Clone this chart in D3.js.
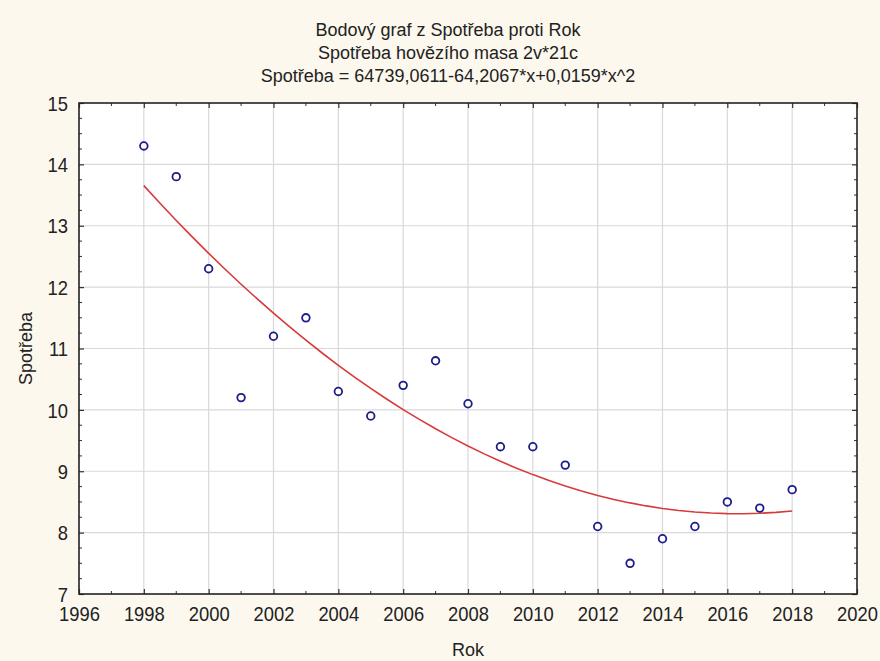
<!DOCTYPE html>
<html>
<head>
<meta charset="utf-8">
<script src="https://cdn.jsdelivr.net/npm/d3@7"></script>
<style>
  html, body { margin: 0; padding: 0; background: #fcf8ed; }
  svg { display: block; }
  text { font-family: "Liberation Sans", Arial, sans-serif; fill: #222; }
</style>
</head>
<body>
<svg id="chart" width="880" height="661"></svg>
<script>
// Spotřeba hovězího masa (kg/os.) by year
const years = [1998, 1999, 2000, 2001, 2002, 2003, 2004, 2005, 2006, 2007, 2008,
               2009, 2010, 2011, 2012, 2013, 2014, 2015, 2016, 2017, 2018];
const spotreba = [14.3, 13.8, 12.3, 10.2, 11.2, 11.5, 10.3, 9.9, 10.4, 10.8, 10.1,
                  9.4, 9.4, 9.1, 8.1, 7.5, 7.9, 8.1, 8.5, 8.4, 8.7];
const xTicks = [1996, 1998, 2000, 2002, 2004, 2006, 2008, 2010, 2012, 2014, 2016, 2018, 2020];
const yTicks = [7, 8, 9, 10, 11, 12, 13, 14, 15];
const titleLines = [
  "Bodový graf z Spotřeba proti Rok",
  "Spotřeba hovězího masa 2v*21c",
  "Spotřeba = 64739,0611-64,2067*x+0,0159*x^2"
];

const W = 880, H = 661;
const margin = { left: 79, right: 23, top: 103, bottom: 67 };
const svg = d3.select("#chart");
const SX = 0.92; // slightly condensed tick labels

const x = d3.scaleLinear().domain([1996, 2020]).range([margin.left, W - margin.right]);
const y = d3.scaleLinear().domain([7, 15]).range([H - margin.bottom, margin.top]);
const [x0, x1] = x.range();
const [y1, y0] = y.range();

// plot area
svg.append("rect").attr("x", x0).attr("y", y0).attr("width", x1 - x0).attr("height", y1 - y0)
  .attr("fill", "#ffffff");

// grid lines at major ticks
const grid = svg.append("g").attr("stroke", "#d9d9d9").attr("stroke-width", 1.2);
xTicks.filter(t => t > 1996 && t < 2020).forEach(t => {
  grid.append("line").attr("x1", x(t)).attr("x2", x(t)).attr("y1", y0).attr("y2", y1);
});
yTicks.filter(t => t > 7 && t < 15).forEach(t => {
  grid.append("line").attr("x1", x0).attr("x2", x1).attr("y1", y(t)).attr("y2", y(t));
});

// minor ticks on all four sides (inward)
const minorX = d3.range(1996, 2021, 1).filter(t => t % 2 !== 0);
const minorY = d3.range(7, 15.001, 0.25).filter(t => Math.abs(t - Math.round(t)) > 1e-6);
const tk = svg.append("g").attr("stroke", "#333").attr("stroke-width", 1);
minorX.forEach(t => {
  tk.append("line").attr("x1", x(t)).attr("x2", x(t)).attr("y1", y1).attr("y2", y1 - 3);
  tk.append("line").attr("x1", x(t)).attr("x2", x(t)).attr("y1", y0).attr("y2", y0 + 3);
});
minorY.forEach(t => {
  tk.append("line").attr("x1", x0).attr("x2", x0 + 3).attr("y1", y(t)).attr("y2", y(t));
  tk.append("line").attr("x1", x1).attr("x2", x1 - 3).attr("y1", y(t)).attr("y2", y(t));
});

// axes with inward major ticks
const gx = svg.append("g").attr("transform", `translate(0,${y1})`)
  .call(d3.axisBottom(x).tickValues(xTicks).tickFormat(d3.format("d")).tickSize(-5).tickPadding(13));
const gy = svg.append("g").attr("transform", `translate(${x0},0)`)
  .call(d3.axisLeft(y).tickValues(yTicks).tickFormat(d3.format("d")).tickSize(-5).tickPadding(12));
svg.append("g").attr("transform", `translate(0,${y0})`)
  .call(d3.axisTop(x).tickValues(xTicks).tickFormat("").tickSize(-5));
svg.append("g").attr("transform", `translate(${x1},0)`)
  .call(d3.axisRight(y).tickValues(yTicks).tickFormat("").tickSize(-5));
svg.selectAll(".domain").remove();
svg.selectAll(".tick line").attr("stroke", "#333").attr("stroke-width", 1.2);
gx.selectAll("text").attr("font-size", 20).attr("fill", "#222")
  .attr("transform", `scale(${SX},1)`);
gy.selectAll("text").attr("font-size", 20).attr("fill", "#222")
  .attr("transform", `scale(${SX},1)`).attr("dy", "0.36em");
svg.selectAll(".tick text").attr("font-family", "Liberation Sans, Arial, sans-serif");

// plot frame
svg.append("rect").attr("x", x0).attr("y", y0).attr("width", x1 - x0).attr("height", y1 - y0)
  .attr("fill", "none").attr("stroke", "#222").attr("stroke-width", 1.6);

// quadratic least-squares fit Spotřeba ~ Rok
function quadFit(xs, ys) {
  const m = d3.mean(xs);
  const t = xs.map(v => v - m);
  const S = k => d3.sum(t, v => Math.pow(v, k));
  const T = k => d3.sum(t, (v, i) => Math.pow(v, k) * ys[i]);
  const A = [[xs.length, S(1), S(2)], [S(1), S(2), S(3)], [S(2), S(3), S(4)]];
  const b = [T(0), T(1), T(2)];
  for (let i = 0; i < 3; i++) {
    for (let j = i + 1; j < 3; j++) {
      const f = A[j][i] / A[i][i];
      for (let k = i; k < 3; k++) A[j][k] -= f * A[i][k];
      b[j] -= f * b[i];
    }
  }
  const c = [0, 0, 0];
  for (let i = 2; i >= 0; i--) {
    let s = b[i];
    for (let k = i + 1; k < 3; k++) s -= A[i][k] * c[k];
    c[i] = s / A[i][i];
  }
  return v => c[0] + c[1] * (v - m) + c[2] * (v - m) * (v - m);
}
const fit = quadFit(years, spotreba);
const fitPts = d3.range(0, 41).map(i => {
  const v = d3.min(years) + i * (d3.max(years) - d3.min(years)) / 40;
  return [v, fit(v)];
});
svg.append("path").datum(fitPts)
  .attr("d", d3.line().x(d => x(d[0])).y(d => y(d[1])))
  .attr("fill", "none").attr("stroke", "#d8393b").attr("stroke-width", 1.6);

// data points
svg.append("g").selectAll("circle").data(years).join("circle")
  .attr("cx", d => x(d)).attr("cy", (d, i) => y(spotreba[i])).attr("r", 3.8)
  .attr("fill", "#ffffff").attr("stroke", "#1c1c8a").attr("stroke-width", 1.8);

// titles
titleLines.forEach((s, i) => {
  svg.append("text").attr("x", 448).attr("y", 36 + i * 23)
    .attr("text-anchor", "middle").attr("font-size", 18).text(s);
});
svg.append("text").attr("x", (x0 + x1) / 2).attr("y", 656)
  .attr("text-anchor", "middle").attr("font-size", 18).text("Rok");
svg.append("text").attr("transform", `translate(${32},${(y0 + y1) / 2}) rotate(-90)`)
  .attr("text-anchor", "middle").attr("font-size", 18).text("Spotřeba");
</script>
</body>
</html>
